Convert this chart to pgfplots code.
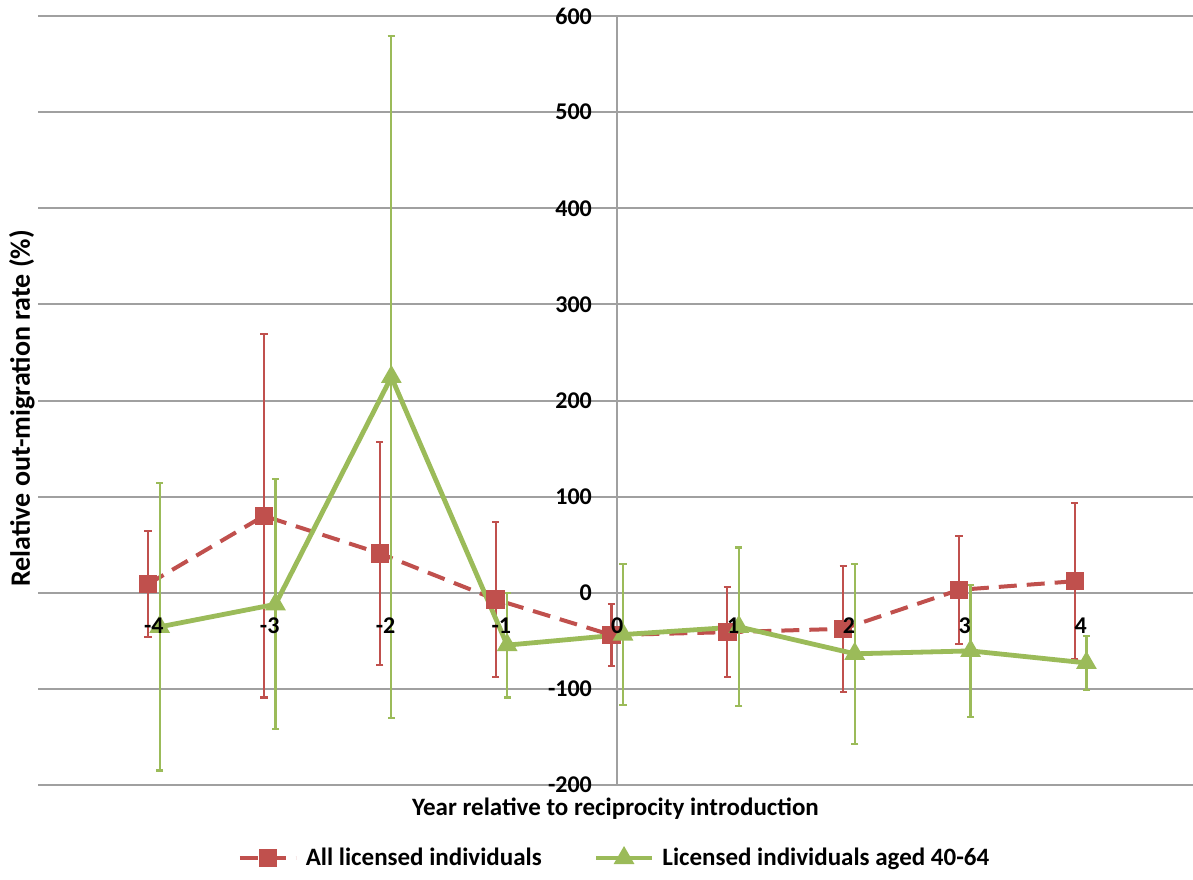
\documentclass[border=0pt]{standalone}
\usepackage{pgfplots}
\pgfplotsset{compat=1.18}
\usepackage{pgfplotstable}
\usepackage{fontspec}
\setmainfont{Carlito}
\definecolor{exred}{HTML}{C0504D}
\definecolor{exgreen}{HTML}{9BBB59}
\definecolor{gridgray}{HTML}{A0A0A0}
\pgfplotsset{
  frame/.style={at={(0,0)}, anchor=south west,
    scale only axis, width=577.5pt, height=384.5pt,
    xmin=-5, xmax=4.97, ymin=-200, ymax=600},
}
\pgfplotstableread{
x y ey
-4.05 9 55
-3.05 80 189
-2.05 41 116
-1.05 -7 81
-0.05 -44 32
0.95 -41 47
1.95 -37.5 65.5
2.95 3 56
3.95 12 81
}\redtab
\pgfplotstableread{
x y ey
-3.95 -35.5 149.5
-2.95 -12 130
-1.95 224.5 354.5
-0.95 -54.5 54.5
0.05 -43.5 73.5
1.05 -35.5 82.5
2.05 -63.5 93.5
3.05 -60.5 68.5
4.05 -73 28
}\greentab
\begin{document}
\begin{tikzpicture}
\path[use as bounding box] (-19pt,-47pt) rectangle (577.5pt,392.5pt);
\begin{axis}[
  frame,
  axis x line=middle, axis y line=middle,
  axis line style={gridgray, line width=1pt, -},
  hide obscured y ticks=false,
  xtick=\empty, ytick={-200,-100,...,600},
  yticklabels={-200,-100,0,100,200,300,400,500,600},
  major tick length=0pt,
  ymajorgrids, grid style={gridgray, line width=1pt},
  tick label style={font=\bfseries\fontsize{12}{14}\selectfont},
  yticklabel style={anchor=east, inner sep=0pt, xshift=-12.5pt},
  xlabel={Year relative to reciprocity introduction},
  ylabel={Relative out-migration rate (\%)},
  every axis x label/.style={at={(axis description cs:0.5,0)}, anchor=base, inner sep=0pt, yshift=-15pt, font=\bfseries\fontsize{12.5}{14}\selectfont},
  every axis y label/.style={at={(axis description cs:-0.0139,0.49)}, anchor=center, rotate=90, inner sep=0pt, font=\bfseries\fontsize{14}{16}\selectfont},
  legend columns=2,
  legend style={at={(axis description cs:0.5,0)}, anchor=center, yshift=-36.5pt, draw=none, fill=none,
    font=\bfseries\fontsize{12.5}{14}\selectfont,
    /tikz/every odd column/.append style={column sep=2pt},
    /tikz/every even column/.append style={column sep=24pt}},
  legend image code/.code={\draw[mark repeat=2,mark phase=2,#1] plot coordinates {(0pt,0pt) (14pt,0pt) (28pt,0pt)};},
]
\addplot[color=exred, line width=2pt, dash pattern=on 9pt off 5pt, mark=square*, mark size=3.6pt, mark options={solid},
  error bars/.cd, y dir=both, y explicit,
  error bar style={line width=1.1pt, solid},
  error mark options={line width=1.1pt, mark size=1.8pt, rotate=90}]
  table[x=x, y=y, y error=ey] {\redtab};
\addlegendentry{All licensed individuals}
\addplot[color=exgreen, line width=2.4pt, mark=triangle*, mark size=3.6pt, mark options={solid},
  error bars/.cd, y dir=both, y explicit,
  error bar style={line width=1.1pt, solid},
  error mark options={line width=1.1pt, mark size=1.8pt, rotate=90}]
  table[x=x, y=y, y error=ey] {\greentab};
\addlegendentry{Licensed individuals aged 40-64}
\end{axis}
\begin{axis}[
  frame,
  axis x line=middle, axis y line=none,
  axis line style={draw=none},
  hide obscured x ticks=false,
  xtick={-4,-3,...,4}, ytick=\empty,
  xticklabels={-4,-3,-2,-1,0,1,2,3,4},
  major tick length=0pt,
  tick label style={font=\bfseries\fontsize{12}{14}\selectfont},
  xticklabel style={anchor=north, yshift=-9pt},
]
\end{axis}
\end{tikzpicture}
\end{document}
